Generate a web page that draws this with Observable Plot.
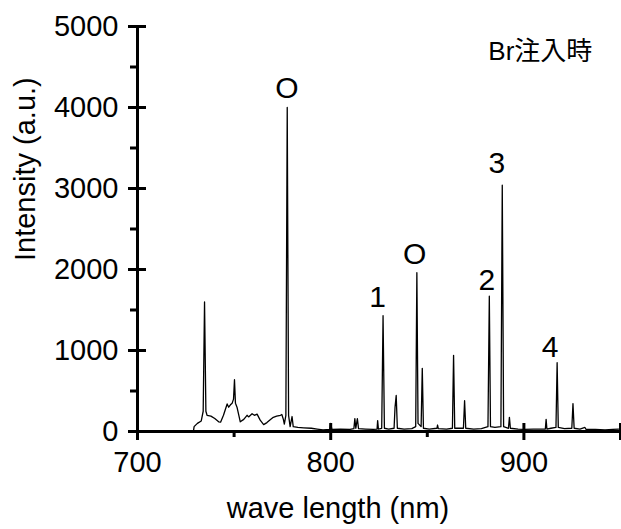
<!DOCTYPE html>
<html>
<head>
<meta charset="utf-8">
<script src="https://cdn.jsdelivr.net/npm/d3@7"></script>
<script src="https://cdn.jsdelivr.net/npm/@observablehq/plot@0.6"></script>
<style>
  html, body { margin: 0; padding: 0; background: #fff; }
  #chart svg { display: block; }
</style>
</head>
<body>
<div id="chart"></div>
<script>
// Spectrum (wavelength nm, intensity a.u.)
const wave = [
  729.0, 729.3, 731.0, 733.0, 734.0, 734.7, 735.4, 736.0, 738.0, 740.0, 742.0, 743.0,
  744.5, 746.4, 747.2, 748.1, 749.0, 749.7, 750.2, 750.7, 751.5, 753.2, 755.0, 756.7,
  757.5, 759.3, 760.5, 761.9, 763.5, 765.3, 767.0, 769.0, 770.3, 772.0, 774.0, 774.7,
  775.5, 776.0, 776.8, 777.5, 778.2, 779.0, 780.0, 780.6, 783.0, 786.0, 790.0, 793.0,
  796.0, 799.5, 800.0, 800.6, 805.0, 810.0, 812.0, 812.5, 813.0, 813.8, 814.4, 818.0,
  822.0, 824.0, 824.3, 824.7, 826.4, 827.1, 827.8, 830.0, 832.8, 833.3, 833.9, 834.5,
  838.0, 842.0, 844.0, 844.6, 845.2, 846.8, 847.4, 848.0, 851.0, 855.0, 855.3, 855.7,
  860.0, 863.0, 863.6, 864.2, 868.7, 869.3, 869.9, 874.0, 878.0, 881.4, 882.1, 882.7,
  885.0, 888.1, 888.8, 889.5, 892.0, 892.5, 893.0, 897.0, 900.0, 905.0, 910.0, 911.1,
  911.5, 911.9, 914.0, 916.6, 917.2, 917.8, 921.0, 924.8, 925.4, 926.0, 929.0, 931.6,
  932.2, 937.0, 942.0, 946.0, 949.0
];
const intensity = [
  10, 60, 100, 130, 250, 1600, 250, 200, 190, 160, 120, 115,
  200, 340, 300, 330, 350, 400, 640, 350, 300, 120, 150, 200,
  180, 220, 200, 215, 140, 85, 110, 150, 175, 190, 200, 210,
  150, 90, 200, 4000, 200, 60, 185, 60, 50, 45, 40, 30,
  20, 25, 100, 25, 30, 25, 35, 160, 40, 160, 35, 30,
  25, 30, 135, 30, 40, 1430, 40, 30, 40, 300, 445, 40,
  30, 35, 60, 1960, 100, 60, 780, 40, 30, 40, 80, 35,
  30, 40, 940, 40, 40, 380, 40, 30, 35, 60, 1670, 60,
  50, 60, 3040, 60, 40, 175, 40, 30, 25, 30, 30, 30,
  150, 30, 40, 50, 850, 50, 35, 40, 345, 40, 30, 50,
  25, 25, 20, 25, 30
];

// Peak annotations
const annText = ["O", "O", "1", "2", "3", "4"];
const annWave = [777.4, 843.5, 824.3, 880.8, 886.0, 913.6];
const annInt  = [4235, 2190, 1660, 1860, 3310, 1040];

// Corner note
const noteText = ["Br注入時"];
const noteWave = [908.5];
const noteInt = [4690];

// Axis ticks
const xMajor = [700, 800, 900, 950];
const xMinor = [750, 850];
const xLabels = [700, 800, 900];
const yMajor = [0, 1000, 2000, 3000, 4000, 5000];
const yMinor = [500, 1500, 2500, 3500, 4500];

const xTitle = "wave length (nm)";
const yTitle = "Intensity (a.u.)";

const spectrum = wave.map((w, i) => ({w, I: intensity[i]}));
const ann = annText.map((t, i) => ({t, w: annWave[i], I: annInt[i]}));
const note = noteText.map((t, i) => ({t, w: noteWave[i], I: noteInt[i]}));

const font = "'Liberation Sans', Arial, 'Noto Sans CJK JP', sans-serif";
const plain = d => String(d);

const chart = Plot.plot({
  width: 621,
  height: 529,
  marginLeft: 137,
  marginRight: 1,
  marginTop: 26,
  marginBottom: 98,
  x: {domain: [700, 950]},
  y: {domain: [0, 5000]},
  style: {fontFamily: font, background: "#fff", color: "#000"},
  marks: [
    Plot.line(spectrum, {x: "w", y: "I", stroke: "#000", strokeWidth: 1.3}),
    // axis lines
    Plot.ruleY([0], {stroke: "#000", strokeWidth: 3}),
    Plot.ruleX([700], {stroke: "#000", strokeWidth: 3}),
    // x ticks
    Plot.axisX({ticks: xMajor, tickSize: 17, dy: -8, tickFormat: () => "", label: null, strokeWidth: 3, stroke: "#000"}),
    Plot.axisX({ticks: xMinor, tickSize: 6, tickFormat: () => "", label: null, strokeWidth: 3, stroke: "#000"}),
    Plot.axisX({ticks: xLabels, tickSize: 0, tickPadding: 20, tickFormat: plain, label: null, fontSize: 29, fill: "#000"}),
    // y ticks
    Plot.axisY({ticks: yMajor, tickSize: 18, dx: 9, tickFormat: () => "", label: null, strokeWidth: 3, stroke: "#000"}),
    Plot.axisY({ticks: yMinor, tickSize: 7, tickFormat: () => "", label: null, strokeWidth: 3, stroke: "#000"}),
    Plot.axisY({ticks: yMajor, tickSize: 0, tickPadding: 19, tickFormat: plain, label: null, fontSize: 29, fill: "#000"}),
    // titles
    Plot.text([xTitle], {frameAnchor: "bottom", dx: -41, dy: 86, fontSize: 29, fill: "#000"}),
    Plot.text([yTitle], {frameAnchor: "left", dx: -112, dy: 32, rotate: -90, fontSize: 29, fill: "#000"}),
    // annotations
    Plot.text(ann, {x: "w", y: "I", text: "t", fontSize: 30, fill: "#000"}),
    Plot.text(note, {x: "w", y: "I", text: "t", fontSize: 26, fill: "#000"})
  ]
});
document.getElementById("chart").appendChild(chart);
</script>
</body>
</html>
